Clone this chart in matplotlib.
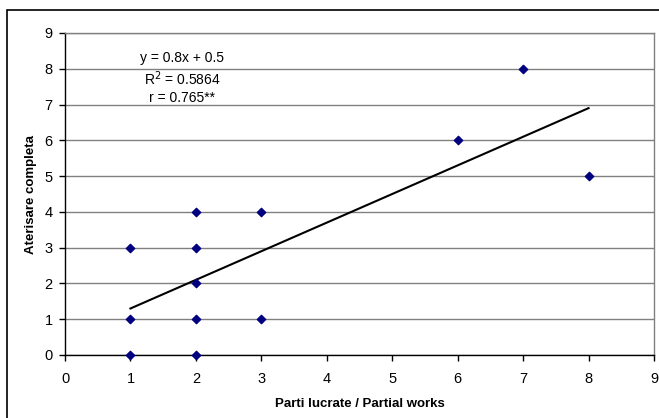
import numpy as np
import matplotlib.pyplot as plt
from matplotlib.patches import Rectangle

plt.rcParams['font.family'] = ['Liberation Sans', 'DejaVu Sans']

# Data
parti_lucrate = [1, 1, 1, 2, 2, 2, 2, 2, 3, 3, 6, 7, 8]
aterisare = [0, 1, 3, 0, 1, 2, 3, 4, 1, 4, 6, 8, 5]
slope = 0.8
intercept = 0.5
eq_lines = ['y = 0.8x + 0.5', 'R$^2$ = 0.5864', 'r = 0.765**']

W, H = 659, 418
fig = plt.figure(figsize=(W / 100, H / 100), dpi=100)
ax = fig.add_axes([65 / W, 1 - 355 / H, (654 - 65) / W, (355 - 33) / H])

# outer chart frame (right/bottom edges fall outside the image)
fig.patches.append(Rectangle((7 / W, -0.1), 1.2, 1 - 10 / H + 0.1,
                             transform=fig.transFigure, fill=False,
                             edgecolor='black', linewidth=1.2))

ax.set_xlim(0, 9)
ax.set_ylim(0, 9)
ax.set_xticks(range(10))
ax.set_yticks(range(10))
ax.yaxis.grid(True, color='#808080', linewidth=1)
ax.set_axisbelow(True)

for s in ['top', 'right']:
    ax.spines[s].set_color('#808080')
    ax.spines[s].set_linewidth(1)
for s in ['left', 'bottom']:
    ax.spines[s].set_color('black')
    ax.spines[s].set_linewidth(1)

ax.tick_params(direction='out', length=4, width=1, labelsize=10.5)
ax.tick_params(axis='x', pad=8)
ax.tick_params(axis='y', pad=5)

# trend line
xs = np.array([min(parti_lucrate), max(parti_lucrate)])
ax.plot(xs, slope * xs + intercept, color='black', linewidth=1.5, zorder=3)

ax.scatter(parti_lucrate, aterisare, marker='D', s=18, color='#000080',
           zorder=4, clip_on=False)

ys = [8.3, 7.72, 7.18]
for t, y in zip(eq_lines, ys):
    ax.text(1.79, y, t, ha='center', va='center', fontsize=10)

ax.set_xlabel('Parti lucrate / Partial works', fontweight='bold', fontsize=9.5,
              labelpad=9)
ax.set_ylabel('Aterisare completa', fontweight='bold', fontsize=9.5,
              labelpad=5)

plt.savefig('out.png', dpi=100)
